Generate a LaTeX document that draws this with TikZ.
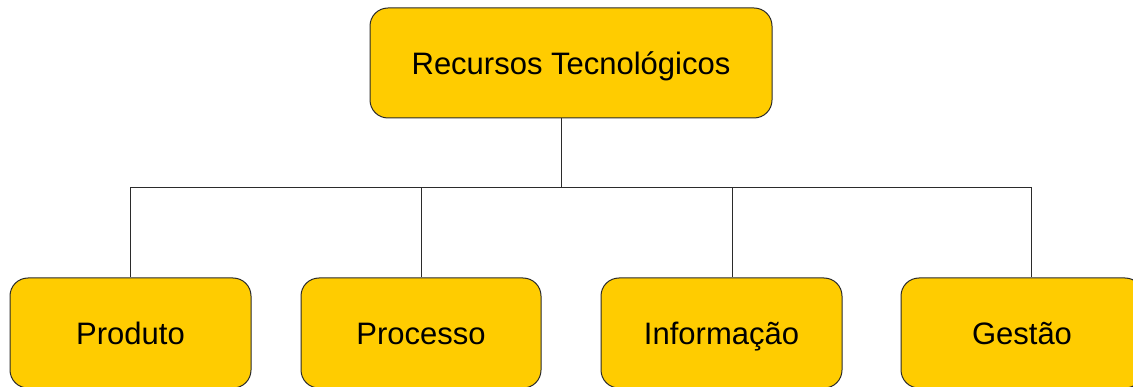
\documentclass[tikz,border=0pt]{standalone}
\usepackage{fontspec}
\setmainfont{Liberation Sans}
\definecolor{boxfill}{HTML}{FFCC00}
\definecolor{edge}{HTML}{2B2B2B}
\begin{document}
\begin{tikzpicture}[x=1pt,y=-1pt,
  box/.style={draw=edge, fill=boxfill, line width=1pt, rounded corners=18pt,
    minimum height=110pt, inner sep=0pt, text height=23pt, text depth=0pt,
    font=\fontsize{31}{36}\selectfont},
  link/.style={draw=edge, line width=0.9pt}]
\useasboundingbox (0,0) rectangle (1133,387);
% root
\node[box, minimum width=402pt] (root) at (571,63) {Recursos Tecnológicos};
% children
\node[box, minimum width=241pt] (prod) at (130.5,333) {Produto};
\node[box, minimum width=240pt] (proc) at (421,333) {Processo};
\node[box, minimum width=241pt] (info) at (721.5,333) {Informação};
\node[box, minimum width=242pt] (gest) at (1022,333) {Gestão};
% bus line
\coordinate (bus) at (561,187.5);
\path[link] ([xshift=-10pt]root.south) -- (bus);
\path[link] (bus) -| (prod.north);
\path[link] (bus) -| (proc.north);
\path[link] (bus) -| ([xshift=10.5pt]info.north);
\path[link] (bus) -| ([xshift=9pt]gest.north);
\end{tikzpicture}
\end{document}
